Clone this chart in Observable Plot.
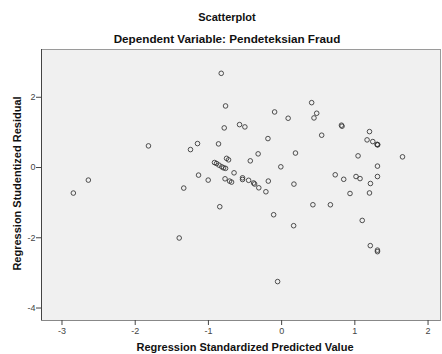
<!DOCTYPE html>
<html>
<head>
<meta charset="utf-8">
<script src="https://cdn.jsdelivr.net/npm/d3@7"></script>
<script src="https://cdn.jsdelivr.net/npm/@observablehq/plot@0.6"></script>
<style>
  html, body { margin: 0; padding: 0; background: #ffffff; }
  #chart { width: 442px; height: 354px; }
</style>
</head>
<body>
<div id="chart"></div>
<script>
const title = "Scatterplot";
const subtitle = "Dependent Variable: Pendeteksian Fraud";
const xLabel = "Regression Standardized Predicted Value";
const yLabel = "Regression Studentized Residual";
const xTicks = [-3, -2, -1, 0, 1, 2];
const yTicks = [-4, -2, 0, 2];

const predicted = [
  -2.845, -2.640, -1.819, -1.337, -1.245, -1.149, -1.135, -1.003, -1.399, -0.862,
  -0.825, -0.766, -0.784, -0.575, -0.502, -0.752, -0.725, -0.917, -0.889, -0.855,
  -0.817, -0.793, -0.766, -0.650, -0.773, -0.711, -0.684, -0.534, -0.534, -0.451,
  -0.383, -0.369, -0.312, -0.215, -0.182, -0.428, -0.321, -0.187, -0.096, 0.089,
  -0.011, 0.189, 0.168, -0.845, -0.109, 0.164, -0.055, 0.410, 0.479, 0.442,
  0.817, 0.825, 0.547, 1.200, 1.167, 1.245, 1.304, 1.309, 1.044, 1.651,
  1.309, 0.732, 0.848, 1.016, 1.071, 1.309, 1.213, 0.934, 1.200, 0.427,
  0.666, 1.101, 1.211, 1.309, 1.309, 1.312
];
const residual = [
  -0.727, -0.358, 0.616, -0.585, 0.511, 0.682, -0.216, -0.358, -2.006, 0.673,
  2.682, 1.753, 1.128, 1.222, 1.156, 0.261, 0.219, 0.142, 0.114, 0.068,
  0.020, -0.009, -0.023, -0.151, -0.321, -0.386, -0.415, -0.293, -0.341, -0.364,
  -0.440, -0.469, -0.577, -0.690, -0.386, 0.190, 0.389, 0.824, 1.582, 1.403,
  0.020, 0.412, -0.472, -1.116, -1.344, -1.656, -3.247, 1.847, 1.545, 1.412,
  1.205, 1.176, 0.920, 1.023, 0.787, 0.739, 0.659, 0.645, 0.332, 0.304,
  0.040, -0.207, -0.335, -0.256, -0.315, -0.256, -0.455, -0.739, -0.724, -1.060,
  -1.060, -1.506, -2.224, -2.352, -2.395, 0.652
];

const points = predicted.map((x, i) => ({x, y: residual[i]}));
const xDomain = [-3.28, 2.17];
const yDomain = [-4.355, 3.36];
const font = "'Liberation Sans', Arial, sans-serif";

const chart = Plot.plot({
  width: 442,
  height: 354,
  marginLeft: 41,
  marginRight: 2,
  marginTop: 49,
  marginBottom: 34,
  style: {fontFamily: font, background: "#ffffff", overflow: "visible"},
  x: {domain: xDomain},
  y: {domain: yDomain},
  marks: [
    Plot.frame({fill: "#f0f0f0", stroke: "#9a9a9a"}),
    Plot.ruleX([xDomain[0]], {stroke: "#444"}),
    Plot.ruleY([yDomain[0]], {stroke: "#888"}),
    Plot.axisX({ticks: xTicks, tickSize: 5, tickPadding: 2, fontSize: 9, color: "#444", label: null, tickFormat: d => d}),
    Plot.axisY({ticks: yTicks, tickSize: 5, tickPadding: 1, fontSize: 9, color: "#444", label: null, tickFormat: d => d}),
    Plot.dot(points, {x: "x", y: "y", r: 2.3, stroke: "#333", strokeWidth: 1, strokeOpacity: 0.85, fill: "none"}),
    Plot.text([title], {frameAnchor: "top", lineAnchor: "middle", dx: -14, dy: -32, fontSize: 11, fontWeight: "bold", fill: "#111"}),
    Plot.text([subtitle], {frameAnchor: "top", lineAnchor: "middle", dx: -14, dy: -10, fontSize: 11.7, fontWeight: "bold", fill: "#111"}),
    Plot.text([xLabel], {frameAnchor: "bottom", lineAnchor: "middle", dx: 4, dy: 27, fontSize: 11, fontWeight: "bold", fill: "#111"}),
    Plot.text([yLabel], {frameAnchor: "left", textAnchor: "middle", dx: -24, dy: -1.5, rotate: -90, fontSize: 11, fontWeight: "bold", fill: "#111"})
  ]
});
document.getElementById("chart").appendChild(chart);
</script>
</body>
</html>
